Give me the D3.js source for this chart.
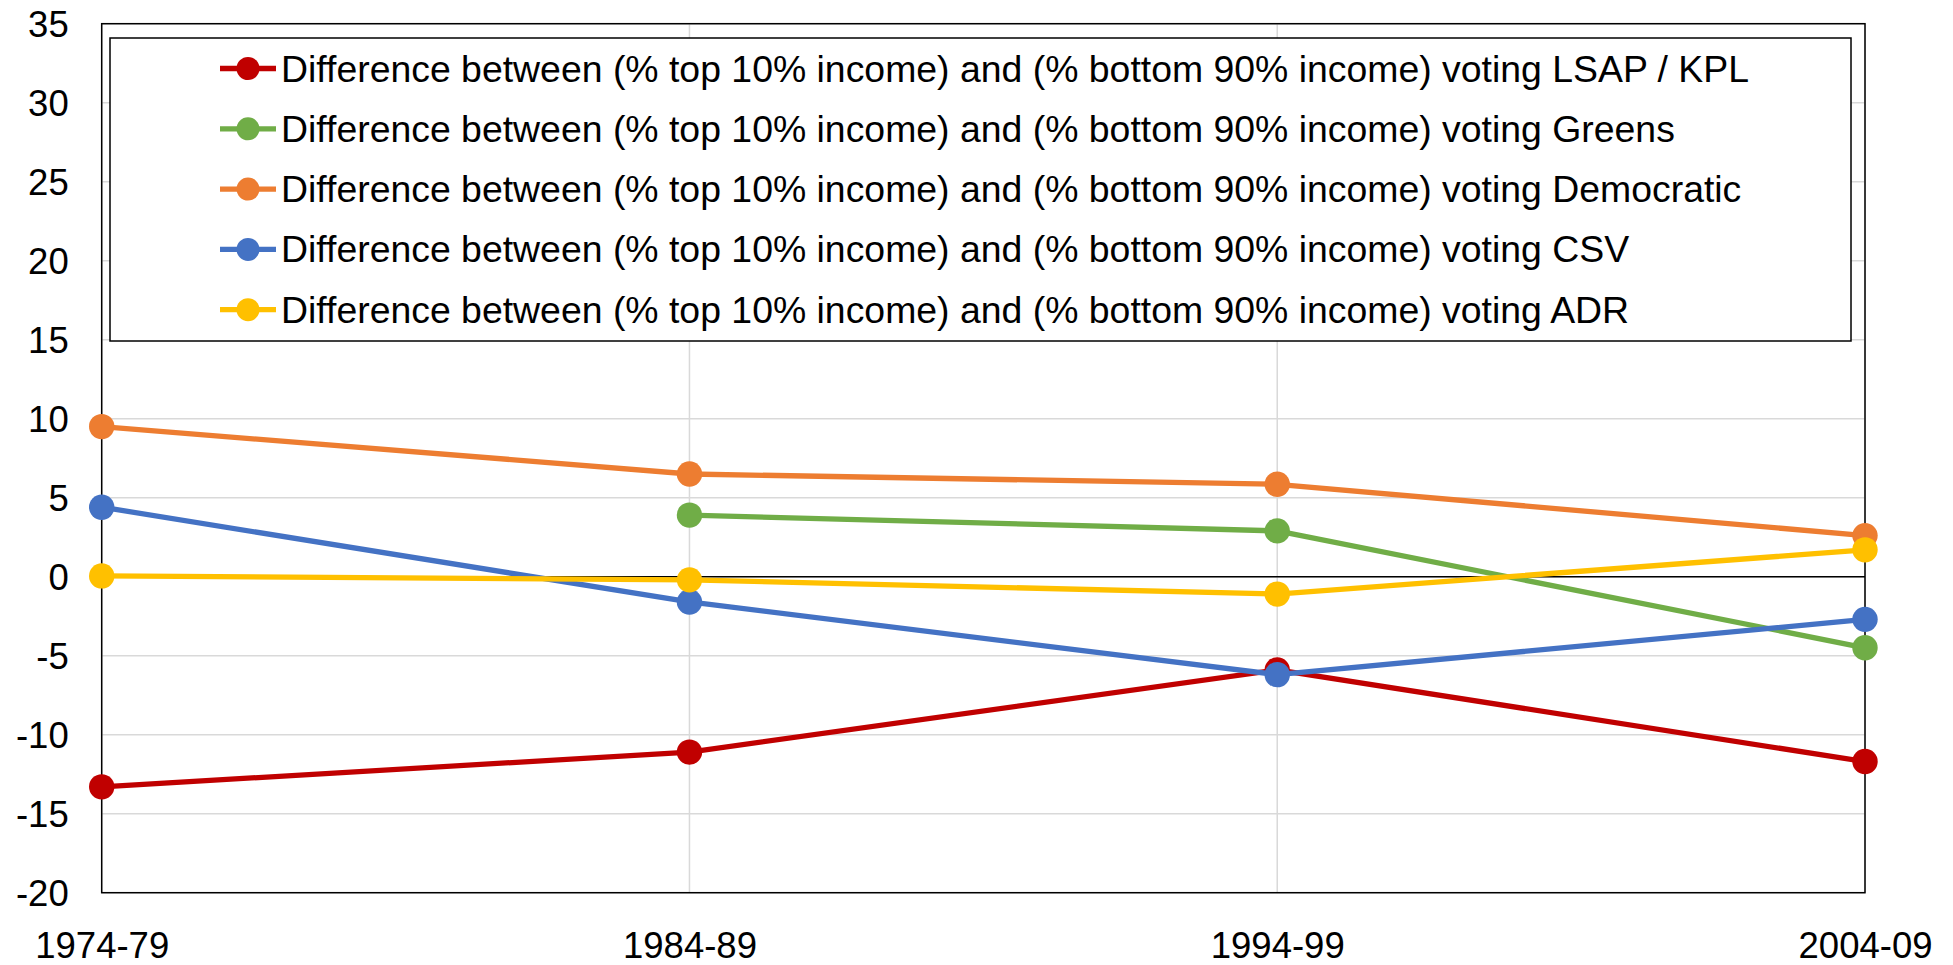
<!DOCTYPE html>
<meta charset="utf-8">
<head>
<script src="https://d3js.org/d3.v7.min.js"></script>
<style>
  body { margin: 0; background: #fff; }
  text { font-family: "Liberation Sans", Arial, sans-serif; fill: #000; }
</style>
</head>
<body>
<div id="chart"></div>
<script>
    // periods on the x axis
    var periods = ["1974-79", "1984-89", "1994-99", "2004-09"];
    var yTicks = [-20, -15, -10, -5, 0, 5, 10, 15, 20, 25, 30, 35];

    var seriesNames = [
      "Difference between (% top 10% income) and (% bottom 90% income) voting LSAP / KPL",
      "Difference between (% top 10% income) and (% bottom 90% income) voting Greens",
      "Difference between (% top 10% income) and (% bottom 90% income) voting Democratic",
      "Difference between (% top 10% income) and (% bottom 90% income) voting CSV",
      "Difference between (% top 10% income) and (% bottom 90% income) voting ADR"
    ];
    var seriesColors = ["#C00000", "#70AD47", "#ED7D31", "#4472C4", "#FFC000"];

    var lsap = [-13.3, -11.1, -5.9, -11.7];
    var greens = [null, 3.9, 2.9, -4.5];
    var democratic = [9.5, 6.5, 5.85, 2.6];
    var csv = [4.4, -1.6, -6.2, -2.7];
    var adr = [0.05, -0.2, -1.1, 1.7];

    var allValues = [lsap, greens, democratic, csv, adr];

    var width = 1953, height = 965;
    var margin = {top: 23.7, right: 88, bottom: 72.3, left: 101.7};

    var svg = d3.select("#chart")
      .append("svg")
        .attr("width", width)
        .attr("height", height);

    var x = d3.scalePoint()
      .domain(periods)
      .range([margin.left, width - margin.right]);

    var y = d3.scaleLinear()
      .domain([-20, 35])
      .range([height - margin.bottom, margin.top]);

    // gridlines
    svg.append("g")
      .selectAll("line")
      .data(yTicks)
      .join("line")
        .attr("x1", margin.left).attr("x2", width - margin.right)
        .attr("y1", function(d) { return y(d); })
        .attr("y2", function(d) { return y(d); })
        .attr("stroke", "#d9d9d9")
        .attr("stroke-width", 1.5);
    svg.append("g")
      .selectAll("line")
      .data(periods)
      .join("line")
        .attr("x1", function(d) { return x(d); })
        .attr("x2", function(d) { return x(d); })
        .attr("y1", y(35)).attr("y2", y(-20))
        .attr("stroke", "#d9d9d9")
        .attr("stroke-width", 1.5);

    // zero line
    svg.append("line")
      .attr("x1", margin.left).attr("x2", width - margin.right)
      .attr("y1", y(0)).attr("y2", y(0))
      .attr("stroke", "#000")
      .attr("stroke-width", 1.5);

    // plot border
    svg.append("rect")
      .attr("x", margin.left)
      .attr("y", y(35))
      .attr("width", width - margin.right - margin.left)
      .attr("height", y(-20) - y(35))
      .attr("fill", "none")
      .attr("stroke", "#000")
      .attr("stroke-width", 1.5);

    // axes (plain hyphen for negatives, like the original)
    var yAxis = svg.append("g")
      .attr("transform", "translate(" + (margin.left - 33) + ",0)")
      .call(d3.axisLeft(y).tickValues(yTicks).tickSize(0).tickPadding(0)
        .tickFormat(function(d) { return String(d); }));
    yAxis.select(".domain").remove();
    yAxis.selectAll("text")
      .attr("font-size", "36.5px")
      .attr("font-family", "Liberation Sans, Arial, sans-serif")
      .attr("fill", "#000")
      .attr("dy", "0.35em");

    var xAxis = svg.append("g")
      .attr("transform", "translate(0,958)")
      .call(d3.axisBottom(x).tickSize(0).tickPadding(0));
    xAxis.select(".domain").remove();
    xAxis.selectAll("text")
      .attr("font-size", "36.5px")
      .attr("font-family", "Liberation Sans, Arial, sans-serif")
      .attr("fill", "#000")
      .attr("y", 0)
      .attr("dy", 0);

    // lines and markers
    var line = d3.line()
      .defined(function(d) { return d != null; })
      .x(function(d, i) { return x(periods[i]); })
      .y(function(d) { return y(d); });

    allValues.forEach(function(vals, s) {
      svg.append("path")
        .datum(vals)
        .attr("fill", "none")
        .attr("stroke", seriesColors[s])
        .attr("stroke-width", 5.3)
        .attr("stroke-linejoin", "round")
        .attr("d", line);
      svg.append("g")
        .selectAll("circle")
        .data(vals.map(function(v, i) { return {v: v, p: periods[i]}; })
                  .filter(function(d) { return d.v != null; }))
        .join("circle")
          .attr("cx", function(d) { return x(d.p); })
          .attr("cy", function(d) { return y(d.v); })
          .attr("r", 12.7)
          .attr("fill", seriesColors[s]);
    });

    // legend
    var legend = svg.append("g");
    legend.append("rect")
      .attr("x", 110).attr("y", 38)
      .attr("width", 1741).attr("height", 303)
      .attr("fill", "#fff")
      .attr("stroke", "#000")
      .attr("stroke-width", 1.5);

    var rows = legend.selectAll("g.row")
      .data(seriesNames)
      .join("g")
        .attr("class", "row")
        .attr("transform", function(d, i) { return "translate(0," + (68.5 + i * 60.3) + ")"; });
    rows.append("line")
      .attr("x1", 220).attr("x2", 276)
      .attr("stroke", function(d, i) { return seriesColors[i]; })
      .attr("stroke-width", 5.3);
    rows.append("circle")
      .attr("cx", 248).attr("r", 11.5)
      .attr("fill", function(d, i) { return seriesColors[i]; });
    rows.append("text")
      .attr("x", 281)
      .attr("dy", "0.35em")
      .attr("font-size", "37.4px")
      .text(function(d) { return d; });
</script>
</body>
